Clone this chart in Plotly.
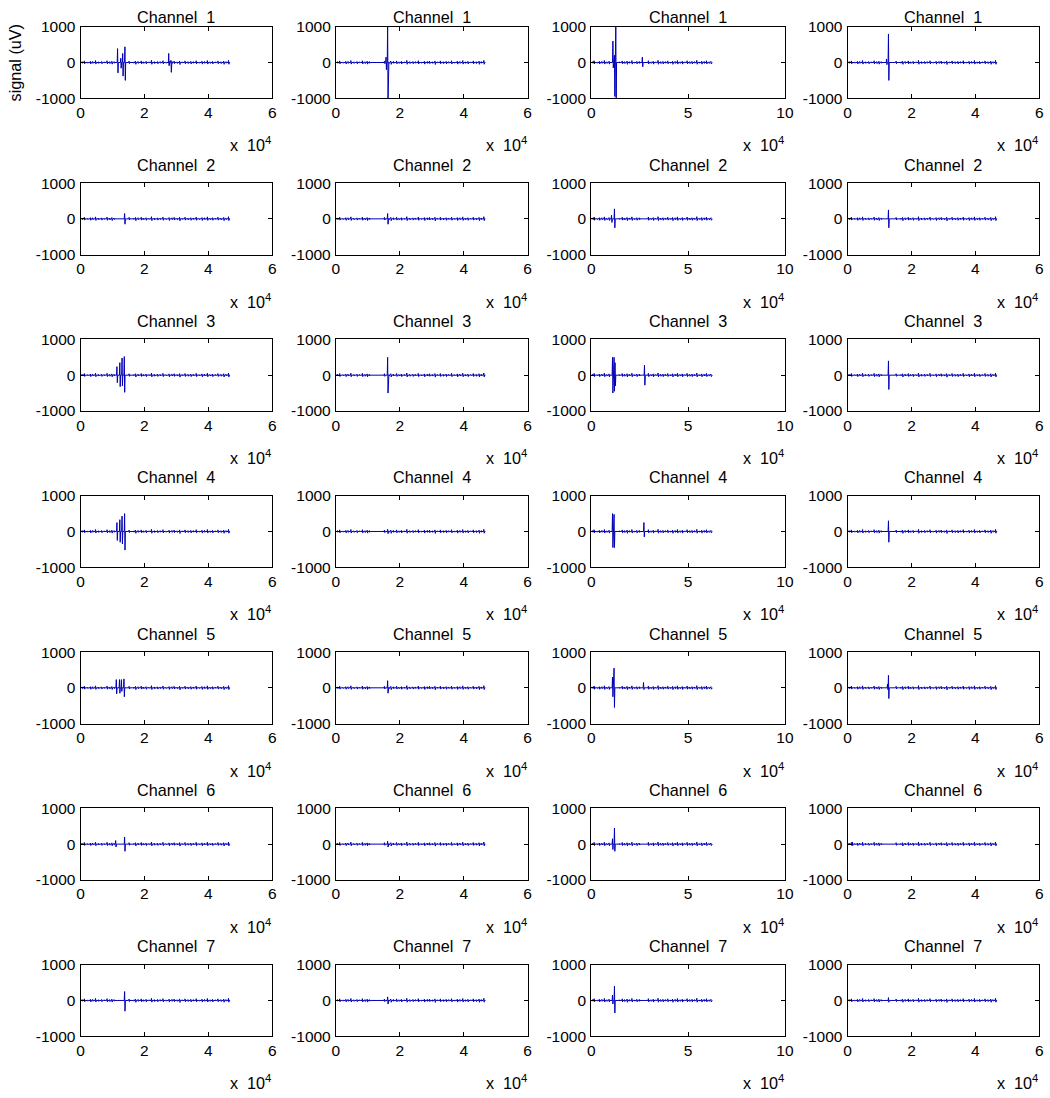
import plotly.graph_objects as go

# ---------------- data (x in units of 10^4 samples, y in uV) ----------------
CHANNELS = ["Channel  1", "Channel  2", "Channel  3", "Channel  4",
            "Channel  5", "Channel  6", "Channel  7"]

X_TICKS_SHORT = [0, 2, 4, 6]
X_TICKS_LONG = [0, 5, 10]
Y_TICKS = [-1000, 0, 1000]

# recording length per column (x 10^4 samples)
REC_END = [4.68, 4.68, 6.25, 4.68]
X_MAX = [6, 6, 10, 6]

# small background ripples (position, amplitude)
RIPPLE_X_SHORT = [0.05, 0.12, 0.22, 0.31, 0.38, 0.47, 0.56, 0.66, 0.74, 0.83,
                  0.91, 0.98, 1.05, 1.52, 1.66, 1.72, 1.80, 1.90, 1.97, 2.05,
                  2.14, 2.22, 2.31, 2.41, 2.49, 2.58, 2.67, 2.77, 2.86, 2.93,
                  3.02, 3.10, 3.18, 3.27, 3.36, 3.45, 3.53, 3.62, 3.71, 3.80,
                  3.88, 3.97, 4.05, 4.13, 4.22, 4.30, 4.39, 4.48, 4.55, 4.63]
RIPPLE_Y_SHORT = [25, 45, -20, -40, 30, 55, -25, -35, 20, 50,
                  -30, -45, 25, 40, -20, -50, 30, 45, -25, -40,
                  20, 60, -30, -35, 25, 50, -20, -45, 30, 40,
                  -25, -55, 20, 45, -30, -40, 25, 50, -20, -45,
                  30, 55, -25, -40, 20, 45, -30, -50, 25, 60]
RIPPLE_X_LONG = [0.08, 0.15, 0.30, 0.42, 0.55, 0.68, 0.80, 0.92, 1.45, 1.60,
                 1.72, 1.85, 1.97, 2.10, 2.22, 2.35, 2.48, 2.95, 3.08, 3.20,
                 3.33, 3.45, 3.58, 3.70, 3.83, 3.95, 4.08, 4.20, 4.33, 4.45,
                 4.58, 4.70, 4.83, 4.95, 5.08, 5.20, 5.33, 5.45, 5.58, 5.70,
                 5.83, 5.95, 6.08, 6.18]
RIPPLE_Y_LONG = [25, 50, -20, -40, 30, 55, -25, -45, 20, 45,
                 -30, -50, 25, 55, -20, -40, 30, 50, -25, -45,
                 20, 60, -30, -40, 25, 45, -20, -50, 30, 55,
                 -25, -45, 20, 50, -30, -40, 25, 60, -20, -45,
                 30, 50, -25, -40]

# main spikes per column, per channel: (position, peak up, peak down)
SPIKES_COL1 = [
    [(1.16, 390, -290), (1.26, 120, -160), (1.32, 255, -380), (1.39, 440, -500),
     (2.76, 255, -90), (2.83, 60, -275)],
    [(1.38, 150, -150)],
    [(1.14, 240, -210), (1.23, 350, -320), (1.30, 480, -300), (1.37, 520, -480)],
    [(1.14, 250, -250), (1.23, 330, -300), (1.30, 430, -350), (1.38, 500, -520)],
    [(1.12, 230, -170), (1.22, 230, -150), (1.28, 230, -100), (1.36, 250, -250)],
    [(1.10, 100, -80), (1.38, 200, -200)],
    [(1.38, 250, -300)],
]
SPIKES_COL2 = [
    [(1.57, 150, -200), (1.62, 1100, -1100)],
    [(1.62, 150, -150)],
    [(1.62, 500, -500)],
    [(1.62, 60, -60)],
    [(1.62, 200, -150)],
    [(1.62, 80, -80)],
    [(1.62, 100, -100)],
]
SPIKES_COL3 = [
    [(1.12, 600, -150), (1.20, 200, -950), (1.27, 1100, -1100), (2.64, 150, -120)],
    [(1.05, 100, -100), (1.20, 280, -250)],
    [(1.10, 500, -500), (1.18, 500, -450), (1.23, 350, -300), (2.75, 280, -280)],
    [(1.10, 500, -450), (1.18, 480, -450), (2.72, 250, -150)],
    [(1.10, 300, -250), (1.18, 550, -550), (2.70, 150, -50)],
    [(1.10, 150, -150), (1.20, 450, -200)],
    [(1.10, 150, -100), (1.20, 400, -350)],
]
SPIKES_COL4 = [
    [(1.22, 100, -60), (1.28, 800, -500)],
    [(1.28, 250, -250)],
    [(1.28, 400, -400)],
    [(1.28, 300, -300)],
    [(1.25, 100, -50), (1.28, 350, -300)],
    [(0.15, 60, -40)],
    [(1.28, 80, -50)],
]
SPIKES = [SPIKES_COL1, SPIKES_COL2, SPIKES_COL3, SPIKES_COL4]

# ---------------- layout geometry (target pixels in the final picture) ----------------
W, H = 1050, 1098
COL_LEFT = [80, 337, 594, 852]
COL_RIGHT = [273, 530, 789, 1045]
ROW_TOP0, ROW_STEP, ROW_H = 25.8, 156.4, 71.5
FONT = "Liberation Sans, Arial, sans-serif"
LINE_COLOR = "rgb(0,0,180)"

# the page is shown slightly shifted / scaled; map target pixels to figure pixels
OFF_X, SC_X = 3.0, 0.994
OFF_Y, SC_Y = 8.0, 0.985


def px(p):
    return min((p - OFF_X) / SC_X / W, 1.0)


def py(p):
    return 1 - (p - OFF_Y) / SC_Y / H


def build_trace(col, row):
    long_rec = col == 2
    rx = RIPPLE_X_LONG if long_rec else RIPPLE_X_SHORT
    ry = RIPPLE_Y_LONG if long_rec else RIPPLE_Y_SHORT
    events = [(x, a, -0.8 * a) if a > 0 else (x, -0.8 * a, a) for x, a in zip(rx, ry)]
    events += SPIKES[col][row]
    events.sort(key=lambda e: e[0])
    eps = 0.012 if not long_rec else 0.02
    xs, ys = [0.0], [0.0]
    for x, up, dn in events:
        xs += [x - eps, x, x + eps, x + 2 * eps]
        ys += [0, up, dn, 0]
    xs.append(REC_END[col])
    ys.append(0)
    return xs, ys


fig = go.Figure()
annotations = []
k = 0
for r in range(7):
    top = ROW_TOP0 + ROW_STEP * r
    bot = top + ROW_H
    for c in range(4):
        k += 1
        sfx = "" if k == 1 else str(k)
        xs, ys = build_trace(c, r)
        fig.add_trace(go.Scatter(x=xs, y=ys, mode="lines",
                                 line=dict(color=LINE_COLOR, width=1),
                                 xaxis="x" + sfx, yaxis="y" + sfx,
                                 showlegend=False, hoverinfo="skip"))
        xt = X_TICKS_LONG if c == 2 else X_TICKS_SHORT
        common = dict(showline=True, mirror="ticks", linecolor="black", linewidth=1,
                      ticks="inside", ticklen=4, tickcolor="black",
                      showgrid=False, zeroline=False, fixedrange=True,
                      tickfont=dict(family=FONT, size=15.5, color="black"))
        fig.layout["xaxis" + sfx] = dict(
            domain=[px(COL_LEFT[c]), px(COL_RIGHT[c])],
            range=[0, X_MAX[c]], tickvals=xt, ticktext=[str(v) for v in xt],
            anchor="y" + sfx, ticklabelstandoff=0, **common)
        fig.layout["yaxis" + sfx] = dict(
            domain=[py(bot), py(top)],
            range=[-1000, 1000], tickvals=Y_TICKS,
            ticktext=[str(v) for v in Y_TICKS],
            anchor="x" + sfx, ticklabelstandoff=1, **common)
        cx = (px(COL_LEFT[c]) + px(COL_RIGHT[c])) / 2
        title_y = min(py(top - 18.5), 1 - 8.5 / H)
        annotations.append(dict(text=CHANNELS[r].replace("  ", "&nbsp; "),
                                xref="paper", yref="paper",
                                x=cx, y=title_y, xanchor="center",
                                yanchor="middle", showarrow=False,
                                font=dict(family=FONT, size=16.2, color="black")))
        annotations.append(dict(text="x&nbsp; 10<sup>4</sup>", xref="paper", yref="paper",
                                x=px(COL_RIGHT[c] + 1), y=py(bot + 46),
                                xanchor="right", yanchor="middle", showarrow=False,
                                font=dict(family=FONT, size=16.2, color="black")))

annotations.append(dict(text="signal (uV)", xref="paper", yref="paper",
                        x=px(15), y=py(61.5), xanchor="center", yanchor="middle",
                        textangle=-90, showarrow=False,
                        font=dict(family=FONT, size=16.2, color="black")))

fig.update_layout(width=W, height=H, margin=dict(l=0, r=0, t=0, b=0),
                  paper_bgcolor="white", plot_bgcolor="white",
                  annotations=annotations)
fig.write_html("out.html")
